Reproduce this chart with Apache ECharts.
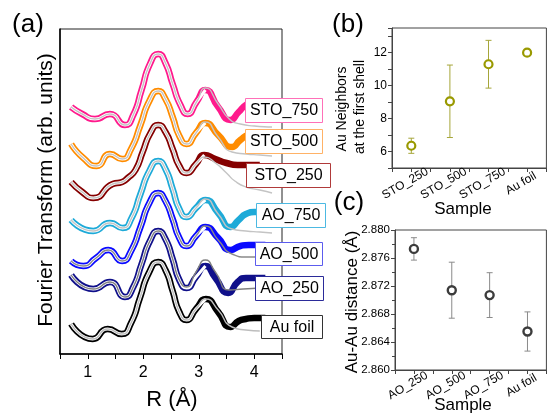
<!DOCTYPE html>
<html>
<head>
<meta charset="utf-8">
<title>EXAFS</title>
<script src="https://cdn.jsdelivr.net/npm/echarts@6/dist/echarts.min.js"></script>
<style>
  html, body { margin: 0; padding: 0; background: #fff; }
  #main { width: 549px; height: 413px; }
</style>
</head>
<body>
<div id="main"></div>
<script type="text/javascript">
var FONT = 'Liberation Sans, Arial, sans-serif';

// (a) FT magnitude, [R (A), arb. units], curves stacked with offsets as in the figure
var sto750 = [[0.7,247],[0.9,240],[1.13,235],[1.4,240],[1.67,229],[1.82,239],[1.97,264],[2.12,290],[2.27,300],[2.4,291],[2.53,270],[2.67,249],[2.8,240],[2.96,252],[3.12,264],[3.35,247],[3.57,234],[3.72,242],[3.85,249],[4.0,252],[4.2,252]];
var sto750Fit = [[3.12,266],[3.35,250],[3.55,235],[3.75,230],[4.0,228],[4.32,227]];
var sto500 = [[0.7,210],[0.92,196],[1.16,188],[1.4,200],[1.62,195],[1.78,205],[1.95,229],[2.11,253],[2.27,263],[2.4,255],[2.53,237],[2.65,218],[2.78,210],[2.95,221],[3.12,231],[3.35,219],[3.6,207],[3.75,214],[3.9,219],[4.05,220],[4.2,220]];
var sto500Fit = [[3.12,232],[3.35,217],[3.6,202],[3.85,200],[4.1,199],[4.32,198]];
var sto250 = [[0.7,172],[0.9,162],[1.1,156],[1.45,170],[1.62,172],[1.72,176],[1.86,184],[1.99,202],[2.13,221],[2.27,229],[2.4,222],[2.53,205],[2.65,188],[2.78,181],[2.95,190],[3.1,199],[3.3,195],[3.5,191],[3.7,189],[3.9,189],[4.1,189]];
var sto250Fit = [[3.1,197],[3.3,191],[3.5,181],[3.65,173],[3.85,167],[4.1,164],[4.32,161]];
var ao750 = [[0.7,134],[1.1,123],[1.4,131],[1.63,126],[1.79,136],[1.95,160],[2.11,183],[2.27,193],[2.4,185],[2.53,165],[2.65,145],[2.78,137],[2.95,146],[3.12,154],[3.35,141],[3.57,127],[3.72,134],[3.85,140],[4.0,142],[4.2,142]];
var ao750Fit = [[3.12,155],[3.35,140],[3.6,125],[3.85,123],[4.1,122],[4.32,121]];
var ao500 = [[0.7,93],[0.92,88],[1.15,96],[1.37,104],[1.62,93],[1.78,103],[1.95,127],[2.11,151],[2.27,161],[2.4,153],[2.53,135],[2.65,116],[2.78,108],[2.95,118],[3.12,127],[3.35,116],[3.57,104],[3.75,108],[3.9,109],[4.05,109],[4.2,109]];
var ao500Fit = [[3.12,128],[3.35,114],[3.6,100],[3.85,97],[4.1,97]];
var ao250 = [[0.7,79],[1.1,65],[1.4,72],[1.67,57],[1.82,67],[1.97,90],[2.12,113],[2.27,123],[2.4,115],[2.53,95],[2.65,74],[2.78,66],[2.95,77],[3.12,88],[3.3,76],[3.53,61],[3.7,72],[3.85,76],[4.0,76],[4.2,76]];
var ao250Fit = [[2.78,67],[2.95,82],[3.12,94],[3.3,82],[3.55,64],[3.8,65],[4.1,66]];
var auFoil = [[0.7,30],[1.09,15],[1.36,25],[1.61,20],[1.78,31],[1.94,56],[2.1,81],[2.27,92],[2.4,84],[2.53,63],[2.65,42],[2.78,34],[2.95,45],[3.13,55],[3.35,42],[3.57,27],[3.72,33],[3.85,35],[4.0,36],[4.2,36]];
var auFoilFit = [[3.13,55],[3.35,44],[3.6,27],[3.85,24],[4.1,23]];

// (b) coordination number
var catsB = ['STO_250', 'STO_500', 'STO_750', 'Au foil'];
var cnB = [6.35, 9.05, 11.3, 12.0];
var cnErr = [0.46, 2.2, 1.45, 0];

// (c) Au-Au distance
var catsC = ['AO_250', 'AO_500', 'AO_750', 'Au foil'];
var distC = [2.8773, 2.8714, 2.8707, 2.8655];
var distErr = [0.0016, 0.0040, 0.0032, 0.0028];

var curves = [
    {name: 'STO_750', data: sto750, fit: sto750Fit, color: '#ff1a8c', fitColor: '#c4c4c4'},
    {name: 'STO_500', data: sto500, fit: sto500Fit, color: '#ff8c00', fitColor: '#c4c4c4'},
    {name: 'STO_250', data: sto250, fit: sto250Fit, color: '#850000', fitColor: '#c4c4c4'},
    {name: 'AO_750', data: ao750, fit: ao750Fit, color: '#1eaad8', fitColor: '#c4c4c4'},
    {name: 'AO_500', data: ao500, fit: ao500Fit, color: '#0a0aff', fitColor: '#8a8a8a'},
    {name: 'AO_250', data: ao250, fit: ao250Fit, color: '#10108a', fitColor: '#808080'},
    {name: 'Au foil', data: auFoil, fit: auFoilFit, color: '#000000', fitColor: '#bdbdbd'}
];

// label boxes next to the curves
var boxes = [
    {t: 'STO_750', x: 245, y: 98, w: 77, h: 24, c: '#ff70b8'},
    {t: 'STO_500', x: 245, y: 129, w: 77, h: 24, c: '#ffb266'},
    {t: 'STO_250', x: 246, y: 163, w: 84, h: 24, c: '#b03a3a'},
    {t: 'AO_750', x: 256, y: 203, w: 69, h: 24, c: '#4cb9e2'},
    {t: 'AO_500', x: 255, y: 242, w: 67, h: 23, c: '#5c5cee'},
    {t: 'AO_250', x: 255, y: 276, w: 68, h: 24, c: '#2b2b99'},
    {t: 'Au foil', x: 261, y: 315, w: 61, h: 23, c: '#333333'}
];

var series = [];
curves.forEach(function (c) {
    var cut = c.fit[0][0];
    var fitFull = c.data.filter(function (p) { return p[0] < cut; }).concat(c.fit);
    series.push({type: 'line', xAxisIndex: 0, yAxisIndex: 0, data: c.data, smooth: 0.6,
        symbol: 'none', lineStyle: {color: c.color, width: 6.5}, z: 2});
    series.push({type: 'line', xAxisIndex: 0, yAxisIndex: 0,
        data: c.data.filter(function (p) { return p[0] <= 3.13; }), smooth: 0.6,
        symbol: 'none', lineStyle: {color: '#ffffff', width: 3}, z: 3});
    series.push({type: 'line', xAxisIndex: 0, yAxisIndex: 0, data: fitFull, smooth: 0.6,
        symbol: 'none', lineStyle: {color: c.fitColor, width: 1.4}, z: 4});
});

function errBars(color) {
    return function (params, api) {
        var x = api.value(0);
        var top = api.coord([x, api.value(2)]);
        var bot = api.coord([x, api.value(1)]);
        var w = 3;
        var st = {stroke: color, lineWidth: 1};
        return {type: 'group', children: [
            {type: 'line', shape: {x1: top[0], y1: top[1], x2: bot[0], y2: bot[1]}, style: st},
            {type: 'line', shape: {x1: top[0] - w, y1: top[1], x2: top[0] + w, y2: top[1]}, style: st},
            {type: 'line', shape: {x1: bot[0] - w, y1: bot[1], x2: bot[0] + w, y2: bot[1]}, style: st}
        ]};
    };
}

var errB = cnB.map(function (v, i) { return [i, v - cnErr[i], v + cnErr[i]]; })
    .filter(function (d) { return d[2] > d[1]; });
var errC = distC.map(function (v, i) { return [i, v - distErr[i], v + distErr[i]]; });

series.push({type: 'custom', xAxisIndex: 1, yAxisIndex: 1, data: errB,
    encode: {x: 0, y: [1, 2]}, renderItem: errBars('#a6a63a'), z: 2});
series.push({type: 'scatter', xAxisIndex: 1, yAxisIndex: 1,
    data: cnB.map(function (v, i) { return [i, v]; }),
    symbol: 'circle', symbolSize: 8,
    itemStyle: {color: '#ffffff', borderColor: '#999900', borderWidth: 2.2, opacity: 1}, z: 3});
series.push({type: 'custom', xAxisIndex: 2, yAxisIndex: 2, data: errC,
    encode: {x: 0, y: [1, 2]}, renderItem: errBars('#8a8a8a'), z: 2});
series.push({type: 'scatter', xAxisIndex: 2, yAxisIndex: 2,
    data: distC.map(function (v, i) { return [i, v]; }),
    symbol: 'circle', symbolSize: 8,
    itemStyle: {color: '#ffffff', borderColor: '#3c3c3c', borderWidth: 2.4, opacity: 1}, z: 3});

function catAxis(idx, cats) {
    return {
        type: 'value', gridIndex: idx, min: -0.5, max: 3.5, interval: 0.5,
        axisLine: {onZero: false, lineStyle: {color: '#444', width: 1}},
        axisTick: {length: 4, lineStyle: {color: '#444'}},
        splitLine: {show: false},
        axisLabel: {
            rotate: 30, align: 'center', verticalAlign: 'middle', margin: 12,
            padding: [0, 14, 0, 0], fontSize: 12, fontFamily: FONT, color: '#000',
            showMinLabel: true, showMaxLabel: true,
            formatter: function (v) { return Number.isInteger(v) ? cats[v] : ''; }
        }
    };
}

var text = function (s, x, y, size, rot) {
    return {type: 'text', x: x, y: y, rotation: rot || 0, z: 100,
        style: {text: s, font: size + 'px ' + FONT, fill: '#000', align: 'center', verticalAlign: 'middle'}};
};

var graphics = [
    text('(a)', 28, 25, 26),
    text('Fourier Transform (arb. units)', 46, 190, 21, Math.PI / 2),
    text('R (\u00c5)', 172, 400, 22),
    text('(b)', 348, 25, 26),
    text('Au Neighbors', 342, 109, 14, Math.PI / 2),
    text('at the first shell', 360, 107, 14, Math.PI / 2),
    text('Sample', 463, 209, 17),
    text('(c)', 349, 203, 26),
    text('Au-Au distance (\u00c5)', 352, 302, 17, Math.PI / 2),
    text('Sample', 463, 405, 17)
];
boxes.forEach(function (b) {
    graphics.push({type: 'rect', z: 100, shape: {x: b.x + 0.5, y: b.y + 0.5, width: b.w, height: b.h},
        style: {fill: '#fff', stroke: b.c, lineWidth: 1}});
    graphics.push({type: 'text', z: 101, x: b.x + b.w / 2 + 0.5, y: b.y + b.h / 2 + 1,
        style: {text: b.t, font: '16px ' + FONT, fill: '#000', align: 'center', verticalAlign: 'middle'}});
});

var chart = echarts.init(document.getElementById('main'));
chart.setOption({
    animation: false,
    backgroundColor: '#fff',
    grid: [
        {left: 60, top: 29, width: 222, height: 325, show: true, borderColor: '#222', borderWidth: 1},
        {left: 392, top: 28, width: 160, height: 140, show: true, borderColor: '#444', borderWidth: 1},
        {left: 395, top: 230, width: 160, height: 140, show: true, borderColor: '#444', borderWidth: 1}
    ],
    xAxis: [
        {
            type: 'value', gridIndex: 0, min: 0.5, max: 4.5, interval: 0.5,
            axisLine: {onZero: false, lineStyle: {color: '#000', width: 1.5}},
            axisTick: {length: 5, lineStyle: {color: '#000'}},
            splitLine: {show: false},
            axisLabel: {
                margin: 11, fontSize: 16, fontFamily: FONT, color: '#000',
                formatter: function (v) { return Number.isInteger(v) ? String(v) : ''; }
            }
        },
        catAxis(1, catsB),
        catAxis(2, catsC)
    ],
    yAxis: [
        {
            type: 'value', gridIndex: 0, min: 0, max: 325,
            axisLine: {show: true, onZero: false, lineStyle: {color: '#000', width: 1.5}},
            axisTick: {show: false}, axisLabel: {show: false}, splitLine: {show: false}
        },
        {
            type: 'value', gridIndex: 1, min: 5, max: 13.5, interval: 1,
            axisLine: {show: true, onZero: false, lineStyle: {color: '#444'}},
            axisTick: {show: true, length: 4, lineStyle: {color: '#444'}},
            splitLine: {show: false},
            axisLabel: {
                margin: 5, fontSize: 12, fontFamily: FONT, color: '#000',
                formatter: function (v) { return (v % 2 === 0) ? String(v) : ''; }
            }
        },
        {
            type: 'value', gridIndex: 2, min: 2.86, max: 2.88, interval: 0.004,
            axisLine: {show: true, onZero: false, lineStyle: {color: '#444'}},
            axisTick: {show: true, length: 4, lineStyle: {color: '#444'}},
            minorTick: {show: true, splitNumber: 2, length: 3, lineStyle: {color: '#444'}},
            splitLine: {show: false},
            axisLabel: {
                margin: 5, fontSize: 11.5, fontFamily: FONT, color: '#000',
                formatter: function (v) { return v.toFixed(3); }
            }
        }
    ],
    graphic: graphics,
    series: series
});
</script>
</body>
</html>
